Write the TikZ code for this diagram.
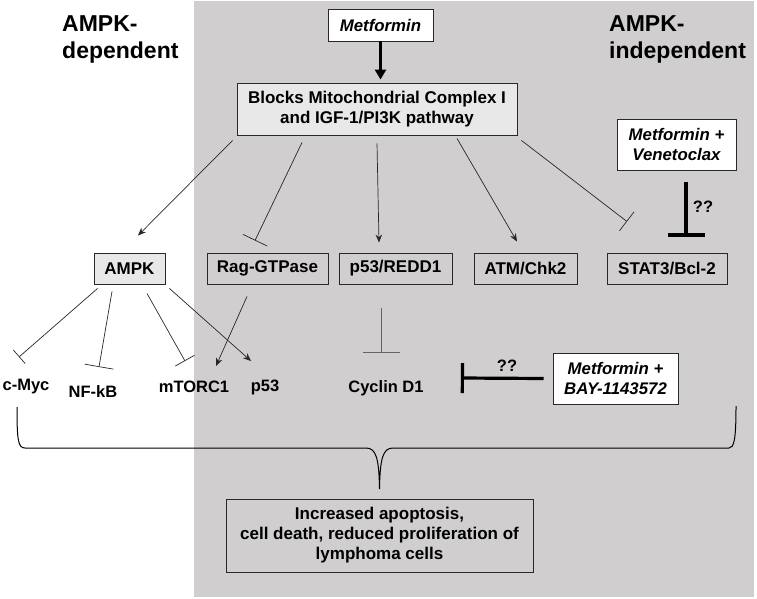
\documentclass[tikz,border=0pt]{standalone}
\usepackage{fontspec}
\setmainfont{Liberation Sans}
\usetikzlibrary{arrows.meta}
\definecolor{bggray}{RGB}{208,206,207}
\definecolor{lightbox}{RGB}{232,232,232}
\definecolor{linecol}{RGB}{40,40,40}
\definecolor{softline}{RGB}{100,100,100}
\begin{document}
\begin{tikzpicture}[x=1pt,y=-1pt,
  box/.style={draw=linecol, line width=0.9pt, inner sep=0pt, minimum height=31pt,
    font=\fontsize{17}{20}\selectfont\bfseries, align=center},
  drugbox/.style={box, fill=white, font=\fontsize{16.8}{20}\selectfont\bfseries\itshape},
  lbl/.style={inner sep=0pt, font=\fontsize{16.5}{20}\selectfont\bfseries},
  header/.style={inner sep=0pt, anchor=north west, align=left, font=\fontsize{23}{27}\selectfont\bfseries},
  act/.style={draw=linecol, line width=0.7pt, -{Stealth[length=8pt,width=6.5pt,inset=2.5pt]}},
  inh/.style={draw=linecol, line width=0.7pt, -{Bar[width=#1]}},
  thickinh/.style={draw=black, line width=3.2pt, -{Bar[width=#1]}},
  brace/.style={draw=black, line width=1pt}
]
\useasboundingbox (0,0) rectangle (757,599);
\fill[bggray] (194,1) rectangle (754,597);

% headers
\node[header] (hdep) at (62,15) {AMPK-\\dependent};
\node[header] (hind) at (609,15) {AMPK-\\independent};

% top boxes
\node[drugbox, minimum width=105pt, minimum height=32pt] (metf) at (380.5,25) {Metformin};
\node[box, fill=lightbox, minimum width=280pt, minimum height=52pt] (blocks) at (377,109)
  {Blocks Mitochondrial Complex I\\and IGF-1/PI3K pathway};
\node[drugbox, minimum width=119pt, minimum height=51pt] (venet) at (676.5,144.5) {Metformin +\\Venetoclax};

% middle row
\node[box, fill=lightbox, minimum width=71pt] (ampk) at (129.5,268.5) {AMPK};
\node[box, minimum width=121pt] (rag) at (267.5,268.5) {Rag-GTPase};
\node[box, minimum width=113pt] (p53r) at (395.5,268.5) {p53/REDD1};
\node[box, minimum width=103pt] (atm) at (525.5,268.5) {ATM/Chk2};
\node[box, minimum width=120pt] (stat) at (667,268.5) {STAT3/Bcl-2};

% bottom row
\node[lbl] (cmyc) at (26,387) {c-Myc};
\node[lbl] (nfkb) at (93,392) {NF-kB};
\node[lbl] (mtorc) at (194,387) {mTORC1};
\node[lbl] (p53) at (265,387) {p53};
\node[lbl] (cyclin) at (386,388) {Cyclin D1};
\node[drugbox, minimum width=125pt, minimum height=51pt] (bay) at (615.5,378.5) {Metformin +\\BAY-1143572};

% result
\node[box, minimum width=307pt, minimum height=73pt, font=\fontsize{17}{20}\selectfont\bfseries] (result) at (379.5,535.5)
  {Increased apoptosis,\\cell death, reduced proliferation of\\lymphoma cells};

% Metformin -> Blocks
\draw[draw=black, line width=2.8pt, -{Triangle[length=10pt,width=11pt]}] (metf.south) -- ([shift={(3.5,-3)}]blocks.north);

% from Blocks
\draw[act] ([shift={(-4,5)}]blocks.south west) -- ([shift={(8.5,-17)}]ampk.north);
\draw[inh=27pt] ([shift={(-75,7)}]blocks.south) -- ([shift={(-12.5,-12)}]rag.north);
\draw[act] ([shift={(0,8)}]blocks.south) -- ([shift={(-16.5,-10)}]p53r.north);
\draw[act] ([shift={(80,3)}]blocks.south) -- ([shift={(-8.5,-11)}]atm.north);
\draw[inh=24pt] ([shift={(4,5)}]blocks.south east) -- ([shift={(-40,-31)}]stat.north);

% Venetoclax inhibition
\draw[thickinh=37pt] ([shift={(9.5,12)}]venet.south) -- ([shift={(19,-16)}]stat.north);
\node[lbl] (q1) at (703,207) {??};

% from AMPK
\draw[inh=18pt] ([shift={(4,4)}]ampk.south west) -- ([shift={(-7,-30)}]cmyc.center);
\draw[inh=29pt] ([shift={(-17.5,7)}]ampk.south) -- ([shift={(6,-25)}]nfkb.center);
\draw[inh=22pt] ([shift={(17.5,9)}]ampk.south) -- ([shift={(-9,-26)}]mtorc.center);
\draw[act] ([shift={(4,4)}]ampk.south east) -- ([shift={(-14,-26)}]p53.center);

% Rag -> mTORC1
\draw[act] ([shift={(-20.5,12)}]rag.south) -- ([shift={(22,-21)}]mtorc.center);

% p53/REDD1 -| Cyclin D1
\draw[inh=37pt, draw=softline] ([shift={(-14.5,24)}]p53r.south) -- ([shift={(-5,-35)}]cyclin.center);

% BAY inhibition
\draw[thickinh=30pt] ([shift={(-9,0)}]bay.west) -- ([shift={(37,-10)}]cyclin.east);
\node[lbl] (q2) at (507,366) {??};

% brace
\coordinate (bl) at (17,407);
\coordinate (br) at (736,406);
\draw[brace] (bl) .. controls (17,440) and (18,448) .. (25,448) -- (366,448)
  .. controls (376,448) and (379,458) .. (379.5,489)
  .. controls (380,458) and (383,448) .. (393,448) -- (729,448)
  .. controls (734,448) and (736,440) .. (br);
\end{tikzpicture}
\end{document}
